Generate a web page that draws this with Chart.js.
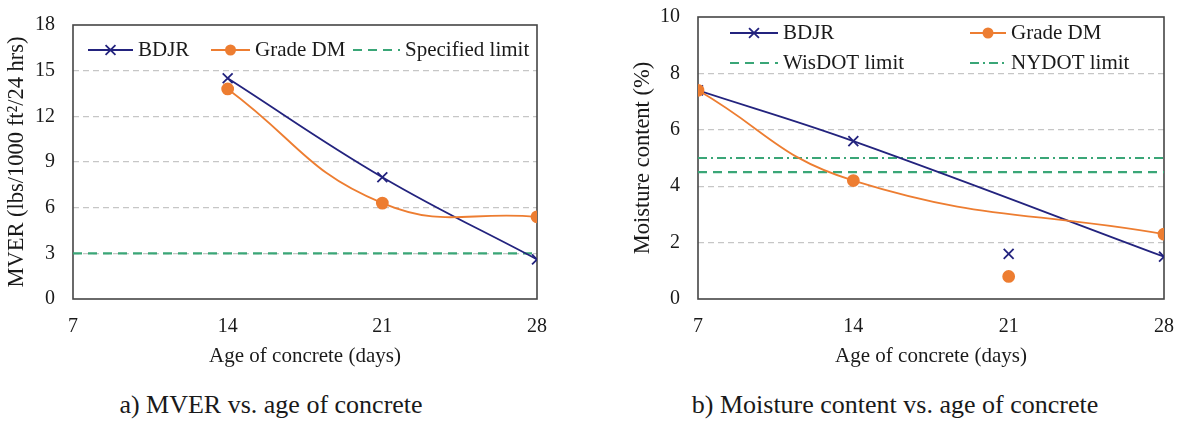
<!DOCTYPE html>
<html>
<head>
<meta charset="utf-8">
<script src="https://cdn.jsdelivr.net/npm/chart.js@4/dist/chart.umd.min.js"></script>
<style>
  body { margin: 0; background: #fff; width: 1180px; height: 424px; position: relative; overflow: hidden; }
  canvas { position: absolute; top: 0; }
  .caption { position: absolute; top: 390px; font-family: "Liberation Serif", "Times New Roman", "DejaVu Serif", serif; font-size: 26px; line-height: 30px; color: #1a1a1a; white-space: nowrap; transform: translateX(-50%); }
</style>
</head>
<body>
<canvas id="mverChart" width="600" height="372" style="left:0"></canvas>
<canvas id="moistChart" width="580" height="372" style="left:600px"></canvas>
<div class="caption" style="left:271px">a) MVER vs. age of concrete</div>
<div class="caption" style="left:895px">b) Moisture content vs. age of concrete</div>
<script>
// valores
const mverDays = [14, 21, 28];
const mverBdjr = [14.5, 8.0, 2.6];
const mverGradeDm = [13.8, 6.3, 5.4];
const mverLimit = 3;

const moistDays = [7, 14, 28];
const moistBdjr = [7.4, 5.6, 1.5];
const moistGradeDm = [7.4, 4.2, 2.3];
const day21 = 21;
const moistBdjrDay21 = 1.6;
const moistGradeDmDay21 = 0.8;
const wisdotLimit = 4.5;
const nydotLimit = 5.0;

const ageRange = [7, 28];
const NAVY = "#23237e";
const ORANGE = "#ed7d31";
const GREEN = "#3aa677";
const FAMILY = '"Liberation Serif", "Times New Roman", "DejaVu Serif", serif';
const FONT = { family: FAMILY, size: 21 };
const TICK_FONT = { family: FAMILY, size: 20 };
const YTITLE_FONT = { family: FAMILY, size: 22.5 };
const TEXT = "#1a1a1a";
const CLEAR = "rgba(0,0,0,0)";

const toPoints = (xs, ys) => xs.map((x, i) => ({ x: x, y: ys[i] }));
const flatLine = (v) => ageRange.map((x) => ({ x: x, y: v }));

// marco del área de trazado
const plotFrame = {
    id: "plotFrame",
    beforeDatasetsDraw(chart) {
        const { left, top, right, bottom } = chart.chartArea;
        const ctx = chart.ctx;
        ctx.save();
        ctx.strokeStyle = "#454545";
        ctx.lineWidth = 1.6;
        ctx.strokeRect(left, top, right - left, bottom - top);
        ctx.restore();
    },
};

// leyenda dentro del área de trazado
const boxLegend = {
    id: "boxLegend",
    afterDatasetsDraw(chart, args, opts) {
        const ctx = chart.ctx;
        ctx.save();
        ctx.font = `${FONT.size}px ${FONT.family}`;
        ctx.textBaseline = "middle";
        opts.items.forEach((item) => {
            const ds = chart.data.datasets.find((d) => d.label === item.label);
            ctx.save();
            ctx.strokeStyle = ds.borderColor;
            ctx.lineWidth = ds.borderWidth;
            ctx.setLineDash(ds.borderDash || []);
            ctx.beginPath();
            ctx.moveTo(item.x, item.y);
            ctx.lineTo(item.x + item.w, item.y);
            ctx.stroke();
            ctx.restore();
            const cx = item.x + item.w / 2;
            const r = ds.pointRadius;
            if (r > 0) {
                ctx.save();
                ctx.strokeStyle = ds.borderColor;
                ctx.fillStyle = ds.backgroundColor;
                ctx.lineWidth = ds.borderWidth;
                ctx.beginPath();
                if (ds.pointStyle === "crossRot") {
                    const d = r * 0.707;
                    ctx.moveTo(cx - d, item.y - d);
                    ctx.lineTo(cx + d, item.y + d);
                    ctx.moveTo(cx + d, item.y - d);
                    ctx.lineTo(cx - d, item.y + d);
                    ctx.stroke();
                } else {
                    ctx.arc(cx, item.y, r, 0, Math.PI * 2);
                    ctx.fill();
                }
                ctx.restore();
            }
            ctx.fillStyle = TEXT;
            ctx.fillText(item.label, item.x + item.w + 5, item.y);
        });
        ctx.restore();
    },
};

function seriesStyle(color, marker) {
    return marker === "x"
        ? { borderColor: color, backgroundColor: color, borderWidth: 1.8, pointStyle: "crossRot", pointRadius: 7, tension: 0.4 }
        : { borderColor: color, backgroundColor: color, borderWidth: 1.8, pointStyle: "circle", pointRadius: 5.5, tension: 0.45 };
}

function limitStyle(dash) {
    return { borderColor: GREEN, backgroundColor: GREEN, borderWidth: 2.2, borderDash: dash, pointRadius: 0, tension: 0 };
}

function buildOptions(cfg) {
    return {
        responsive: false,
        animation: false,
        layout: { padding: cfg.padding },
        plugins: {
            legend: { display: false },
            tooltip: { enabled: false },
            boxLegend: { items: cfg.legend },
        },
        scales: {
            x: {
                type: "linear",
                min: ageRange[0],
                max: ageRange[1],
                ticks: { stepSize: 7, font: TICK_FONT, color: TEXT, padding: 3 },
                grid: { color: CLEAR, drawOnChartArea: false, tickLength: 13, tickColor: CLEAR },
                border: { display: false },
                title: { display: true, text: "Age of concrete (days)", font: FONT, color: TEXT, padding: { top: 0, bottom: 3 } },
                afterFit: (s) => { s.height = 73; },
            },
            y: {
                min: 0,
                max: cfg.yMax,
                ticks: { stepSize: cfg.yStep, font: TICK_FONT, color: TEXT, padding: 3 },
                grid: {
                    tickLength: 15,
                    tickColor: CLEAR,
                    lineWidth: 1.3,
                    color: (c) => (c.tick && c.tick.value > 0 && c.tick.value < cfg.yMax ? "#c6c6c6" : CLEAR),
                },
                border: { display: false, dash: [6, 4] },
                title: { display: true, text: cfg.yTitle, font: YTITLE_FONT, color: TEXT, padding: { top: 4, bottom: 0 } },
                afterFit: (s) => { s.width = cfg.yWidth; },
            },
        },
    };
}

document.addEventListener("DOMContentLoaded", function () {
    new Chart(document.getElementById("mverChart").getContext("2d"), {
        type: "line",
        data: {
            datasets: [
                { label: "Grade DM", data: toPoints(mverDays, mverGradeDm), ...seriesStyle(ORANGE, "o") },
                { label: "BDJR", data: toPoints(mverDays, mverBdjr), ...seriesStyle(NAVY, "x") },
                { label: "Specified limit", data: flatLine(mverLimit), ...limitStyle([9, 6]) },
            ],
        },
        options: buildOptions({
            padding: { top: 25, left: 0, right: 63, bottom: 0 },
            yWidth: 73,
            yMax: 18,
            yStep: 3,
            yTitle: "MVER (lbs/1000 ft²/24 hrs)",
            legend: [
                { label: "BDJR", x: 88, y: 50, w: 45 },
                { label: "Grade DM", x: 211, y: 50, w: 39 },
                { label: "Specified limit", x: 353, y: 50, w: 47 },
            ],
        }),
        plugins: [plotFrame, boxLegend],
    });

    new Chart(document.getElementById("moistChart").getContext("2d"), {
        type: "line",
        data: {
            datasets: [
                { label: "Grade DM", data: toPoints(moistDays, moistGradeDm), ...seriesStyle(ORANGE, "o") },
                { label: "BDJR", data: toPoints(moistDays, moistBdjr), ...seriesStyle(NAVY, "x") },
                { label: "", data: [{ x: day21, y: moistGradeDmDay21 }], showLine: false, ...seriesStyle(ORANGE, "o") },
                { label: "", data: [{ x: day21, y: moistBdjrDay21 }], showLine: false, ...seriesStyle(NAVY, "x") },
                { label: "WisDOT limit", data: flatLine(wisdotLimit), ...limitStyle([9, 6]) },
                { label: "NYDOT limit", data: flatLine(nydotLimit), ...limitStyle([9, 4, 2, 4]) },
            ],
        },
        options: buildOptions({
            padding: { top: 17, left: 26, right: 16, bottom: 0 },
            yWidth: 72,
            yMax: 10,
            yStep: 2,
            yTitle: "Moisture content (%)",
            legend: [
                { label: "BDJR", x: 130, y: 33, w: 48 },
                { label: "Grade DM", x: 370, y: 33, w: 36 },
                { label: "WisDOT limit", x: 130, y: 63, w: 48 },
                { label: "NYDOT limit", x: 370, y: 63, w: 36 },
            ],
        }),
        plugins: [plotFrame, boxLegend],
    });
});
</script>
</body>
</html>
